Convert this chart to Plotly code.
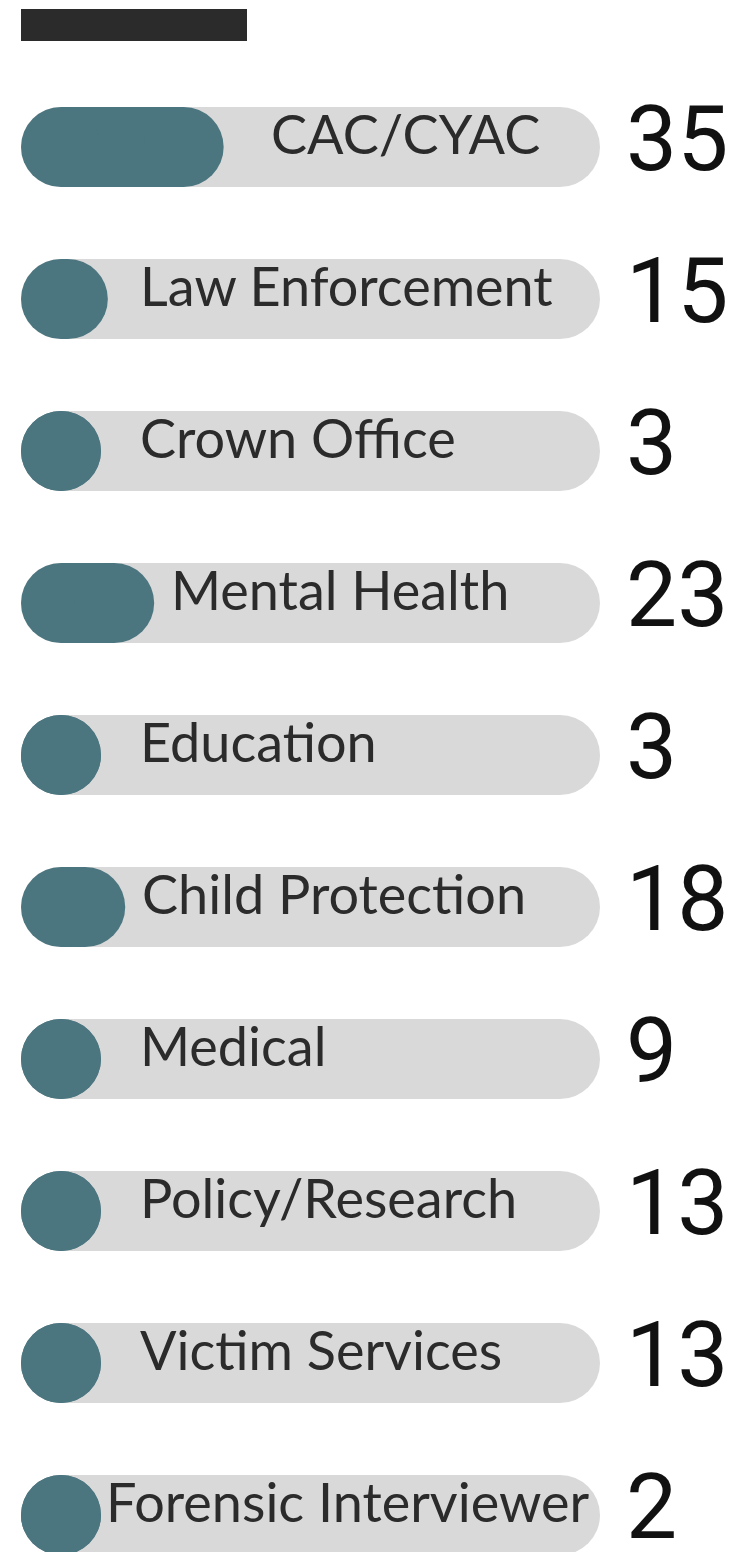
import plotly.graph_objects as go

# ---- data ----
categories = ["CAC/CYAC", "Law Enforcement", "Crown Office", "Mental Health", "Education",
              "Child Protection", "Medical", "Policy/Research", "Victim Services", "Forensic Interviewer"]
values = [35, 15, 3, 23, 3, 18, 9, 13, 13, 2]
track_max = 100

# ---- style ----
W, H = 742, 1552
ML = 21
PX_PER_UNIT = 5.79
X_MAX = (W - ML) / PX_PER_UNIT
ROW_PX = 152
FIRST_ROW_PX = 147
BAR_PX = 80
TEAL = "#4b7680"
TRACK = "#d9d9d9"
LABEL_FONT = dict(family="Lato", size=54, color="#2b2b2b")
NUM_FONT = dict(family="Roboto", size=91, color="#111111")
LABEL_MIN_LEFT_PX = 117      # minimum label start, measured from the track start
LABEL_GAP_PX = 15
LABEL_NUDGE_PX = [30, 0, 0, 0, 0, 0, 0, 0, 0, 0]  # cosmetic per-row text nudges

n = len(categories)
y_top = -FIRST_ROW_PX / ROW_PX
y_bottom = y_top + H / ROW_PX
r_units = BAR_PX / 2 / PX_PER_UNIT  # half pill height, in x units


def pill_coords(ends):
    xs, ys = [], []
    for cat, end in zip(categories, ends):
        xs += [r_units, max(end - r_units, r_units), None]
        ys += [cat, cat, None]
    return xs, ys


fig = go.Figure()
# background tracks (rounded pills)
tx, ty = pill_coords([track_max] * n)
fig.add_trace(go.Scatter(
    x=tx, y=ty, mode="lines+markers", connectgaps=False,
    line=dict(color=TRACK, width=BAR_PX),
    marker=dict(color=TRACK, size=BAR_PX, line=dict(width=0)),
    hoverinfo="skip", showlegend=False))
# value pills
vx, vy = pill_coords(values)
fig.add_trace(go.Scatter(
    x=vx, y=vy, mode="lines+markers", connectgaps=False,
    line=dict(color=TEAL, width=BAR_PX),
    marker=dict(color=TEAL, size=BAR_PX, line=dict(width=0)),
    hoverinfo="skip", showlegend=False))

annotations = []
for cat, v, nudge in zip(categories, values, LABEL_NUDGE_PX):
    fill_end_px = max(v * PX_PER_UNIT, BAR_PX)
    left_px = max(fill_end_px + LABEL_GAP_PX, LABEL_MIN_LEFT_PX) + nudge
    est_width = len(cat) * 0.5 * LABEL_FONT["size"]
    if left_px + est_width > track_max * PX_PER_UNIT:
        ann = dict(x=track_max - 1.5, xanchor="right")
    else:
        ann = dict(x=left_px / PX_PER_UNIT, xanchor="left")
    annotations.append(dict(y=cat, text=cat, showarrow=False, yanchor="middle",
                            yshift=14, font=LABEL_FONT, **ann))
    annotations.append(dict(x=track_max + 24 / PX_PER_UNIT, y=cat, text=str(v), showarrow=False,
                            xanchor="left", yanchor="middle", yshift=8, font=NUM_FONT))

fig.update_layout(
    width=W, height=H,
    margin=dict(l=ML, r=0, t=0, b=0),
    paper_bgcolor="white", plot_bgcolor="white",
    xaxis=dict(range=[0, X_MAX], visible=False, fixedrange=True),
    yaxis=dict(range=[y_bottom, y_top], visible=False, type="category",
               categoryorder="array", categoryarray=categories, fixedrange=True),
    annotations=annotations,
    shapes=[dict(type="rect", xref="paper", yref="paper",
                 x0=0, x1=(247 - ML) / (W - ML), y0=1 - 41 / H, y1=1 - 9 / H,
                 fillcolor="#2b2b2b", line=dict(width=0), layer="above")],
)

fig.write_html("out.html", config={"displayModeBar": False},
               post_script="document.body.style.margin='0';")
